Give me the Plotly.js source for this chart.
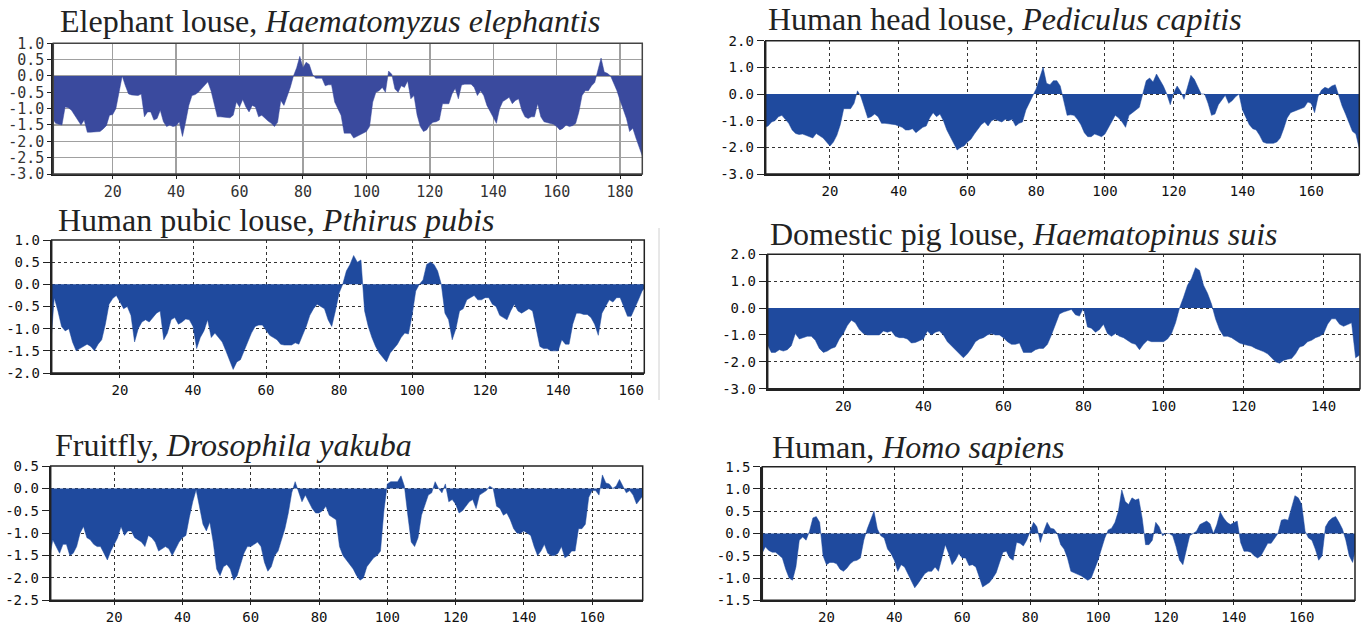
<!DOCTYPE html>
<html>
<head>
<meta charset="utf-8">
<script src="https://cdn.plot.ly/plotly-3.0.1.min.js"></script>
<style>html,body{margin:0;padding:0;background:#fff;}#chart{width:1368px;height:630px;}</style>
</head>
<body>
<div id="chart"></div>
<script>
// ---------- DATA (hydropathy, one value per residue) ----------
const commonNames = ["Elephant louse", "Human head louse", "Human pubic louse", "Domestic pig louse", "Fruitfly", "Human"];
const latinNames = ["Haematomyzus elephantis", "Pediculus capitis", "Pthirus pubis", "Haematopinus suis", "Drosophila yakuba", "Homo sapiens"];

const elephantLouse = [-1.3,-1.45,-1.48,-1.5,-0.95,-0.97,-1.05,-1.2,-1.35,-1.5,-1.35,-1.72,-1.72,-1.72,-1.72,-1.7,-1.62,-1.52,-1.2,-1.18,
-1.0,-0.5,0.0,-0.3,-0.55,-0.58,-0.58,-0.6,-0.55,-1.25,-1.1,-1.1,-1.35,-1.3,-1.05,-1.4,-1.55,-1.5,-1.55,-1.52,
-1.4,-1.85,-1.4,-0.9,-0.6,-0.57,-0.5,-0.4,-0.3,-0.18,-0.45,-0.9,-1.25,-1.25,-1.25,-1.27,-1.28,-1.2,-0.8,-0.95,
-0.72,-0.95,-1.1,-0.9,-0.95,-1.25,-1.2,-1.3,-1.38,-1.45,-1.55,-1.42,-0.75,-0.9,-0.65,-0.35,0.0,0.25,0.6,0.25,
0.42,0.35,0.05,-0.07,-0.07,-0.07,-0.3,-0.27,-0.27,-0.8,-1.0,-1.2,-1.75,-1.75,-1.75,-1.9,-1.85,-1.8,-1.75,-1.7,
-1.55,-0.8,-0.5,-0.45,-0.35,-0.5,0.15,0.05,-0.4,-0.5,-0.3,-0.35,-0.15,-0.7,-0.6,-1.2,-1.55,-1.7,-1.65,-1.5,
-1.42,-1.4,-1.35,-0.85,-0.85,-0.85,-0.55,-0.38,-0.7,-0.28,-0.25,-0.25,-0.25,-0.35,-0.6,-0.45,-0.6,-0.9,-1.1,-1.3,
-1.45,-1.0,-0.78,-0.72,-0.65,-0.85,-0.75,-0.7,-1.05,-1.25,-1.3,-1.25,-1.25,-0.85,-1.25,-1.4,-1.42,-1.45,-1.48,-1.55,
-1.65,-1.6,-1.5,-1.55,-1.52,-1.45,-1.1,-0.6,-0.45,-0.45,-0.3,-0.2,0.2,0.55,0.12,0.08,0.0,-0.2,-0.45,-0.75,
-1.0,-1.3,-1.7,-1.6,-1.9,-2.2,-2.45];

const headLouse = [-1.25,-1.2,-1.05,-1.0,-0.85,-0.8,-0.95,-1.1,-1.35,-1.48,-1.52,-1.5,-1.55,-1.6,-1.65,-1.48,-1.55,-1.65,-1.8,-1.95,
-1.8,-1.55,-1.15,-0.55,-0.55,-0.55,-0.35,0.12,-0.1,-0.55,-0.9,-0.85,-0.75,-0.85,-1.1,-1.1,-1.12,-1.15,-1.15,-1.2,
-1.25,-1.35,-1.35,-1.3,-1.45,-1.35,-1.25,-1.2,-0.9,-0.7,-0.85,-0.75,-1.0,-1.35,-1.6,-1.8,-2.1,-2.0,-1.95,-1.8,
-1.7,-1.5,-1.3,-1.15,-1.05,-1.2,-1.0,-0.95,-1.0,-1.05,-0.95,-1.0,-0.95,-1.2,-1.1,-1.05,-0.6,-0.35,-0.1,0.2,
0.6,1.0,0.4,0.35,0.5,0.5,0.3,-0.3,-0.8,-0.78,-0.8,-0.95,-1.15,-1.45,-1.6,-1.6,-1.5,-1.55,-1.6,-1.5,
-1.25,-1.0,-0.8,-0.9,-1.05,-1.25,-0.8,-0.7,-0.6,-0.5,0.0,0.5,0.6,0.45,0.75,0.55,0.3,0.0,-0.4,0.05,
0.3,0.1,-0.2,0.25,0.7,0.55,0.3,0.0,0.0,-0.35,-0.8,-0.75,-0.4,-0.2,-0.05,-0.35,-0.25,-0.1,0.0,-0.6,
-0.85,-1.15,-1.3,-1.35,-1.55,-1.8,-1.85,-1.85,-1.85,-1.8,-1.65,-1.3,-0.9,-0.7,-0.65,-0.6,-0.55,-0.5,-0.3,-0.35,
-0.7,-0.1,0.15,0.25,0.2,0.3,0.35,-0.05,-0.45,-0.75,-1.05,-1.4,-1.5,-2.05];

const pubicLouse = [-1.4,-0.3,-0.6,-0.95,-1.05,-1.0,-1.3,-1.5,-1.45,-1.4,-1.35,-1.4,-1.5,-1.35,-1.25,-0.9,-0.45,-0.32,-0.25,-0.4,
-0.55,-0.5,-0.7,-1.3,-1.0,-0.85,-0.8,-0.85,-0.75,-0.65,-0.6,-1.25,-1.1,-0.8,-0.75,-0.9,-0.85,-0.78,-0.8,-0.95,
-1.45,-1.2,-1.05,-0.8,-1.2,-1.1,-1.2,-1.3,-1.5,-1.7,-1.92,-1.75,-1.7,-1.5,-1.3,-1.1,-0.95,-0.92,-0.92,-1.05,
-1.15,-1.2,-1.25,-1.35,-1.37,-1.37,-1.37,-1.32,-1.35,-1.15,-0.95,-0.7,-0.55,-0.45,-0.5,-0.55,-0.8,-0.95,-0.6,-0.2,
0.0,0.3,0.45,0.65,0.5,0.55,-0.6,-0.95,-1.2,-1.4,-1.55,-1.65,-1.75,-1.55,-1.45,-1.35,-1.2,-1.1,-1.12,-0.7,
-0.15,0.0,0.1,0.45,0.5,0.45,0.3,0.0,-0.65,-0.8,-1.25,-1.0,-0.6,-0.55,-0.35,-0.3,-0.25,-0.35,-0.35,-0.3,
-0.3,-0.45,-0.5,-0.7,-0.75,-0.8,-0.6,-0.45,-0.6,-0.65,-0.6,-0.55,-0.6,-1.0,-1.4,-1.45,-1.45,-1.5,-1.5,-1.5,
-1.25,-1.35,-1.35,-0.9,-0.65,-0.65,-0.68,-0.68,-0.75,-0.9,-1.15,-0.65,-0.5,-0.35,-0.4,-0.3,-0.3,-0.5,-0.72,-0.72,
-0.55,-0.35,-0.15,-0.05];

const pigLouse = [-1.35,-1.65,-1.65,-1.55,-1.6,-1.55,-1.4,-0.95,-1.15,-1.1,-1.05,-1.05,-1.2,-1.5,-1.65,-1.6,-1.5,-1.45,-1.15,-0.95,
-0.65,-0.45,-0.55,-0.8,-0.95,-1.0,-1.0,-1.0,-1.0,-0.85,-0.9,-0.85,-1.05,-1.1,-1.1,-1.15,-1.3,-1.28,-1.2,-1.15,
-0.85,-1.0,-0.9,-0.85,-1.0,-1.25,-1.4,-1.55,-1.7,-1.85,-1.7,-1.5,-1.25,-1.15,-1.1,-1.0,-0.95,-1.0,-1.0,-1.1,
-1.25,-1.35,-1.35,-1.3,-1.65,-1.65,-1.65,-1.55,-1.5,-1.5,-1.35,-1.0,-0.6,-0.22,-0.15,-0.1,-0.05,-0.25,-0.3,0.0,
-0.7,-0.75,-0.9,-0.8,-0.6,-0.95,-1.05,-0.95,-1.05,-1.1,-1.2,-1.3,-1.35,-1.55,-1.35,-1.2,-1.25,-1.25,-1.25,-1.25,
-1.15,-0.95,-0.55,0.0,0.4,0.85,1.1,1.5,1.4,0.85,0.55,0.15,-0.4,-0.8,-1.05,-1.05,-1.1,-1.2,-1.3,-1.35,
-1.38,-1.42,-1.5,-1.55,-1.62,-1.7,-1.85,-2.0,-2.05,-1.95,-1.9,-1.88,-1.7,-1.45,-1.4,-1.25,-1.2,-1.1,-1.05,-0.95,
-0.6,-0.4,-0.4,-0.6,-0.68,-0.6,-0.55,-1.85,-1.75];

const fruitfly = [-1.6,-1.15,-1.3,-1.45,-1.25,-1.25,-1.5,-1.45,-1.3,-1.0,-0.85,-1.1,-1.15,-1.25,-1.3,-1.3,-1.45,-1.6,-1.4,-1.25,
-1.1,-0.85,-1.05,-0.95,-0.95,-1.1,-1.15,-1.2,-1.3,-1.05,-1.1,-1.2,-1.4,-1.35,-1.3,-1.35,-1.5,-1.35,-1.2,-1.1,
-1.05,-0.65,-0.3,-0.03,-0.45,-0.8,-0.95,-0.75,-1.2,-1.8,-1.95,-1.75,-1.7,-1.8,-2.05,-1.95,-1.7,-1.45,-1.3,-1.3,
-1.25,-1.2,-1.3,-1.65,-1.85,-1.75,-1.5,-1.4,-1.15,-0.9,-0.55,-0.1,0.15,-0.1,-0.3,-0.15,-0.3,-0.45,-0.55,-0.55,
-0.5,-0.4,-0.6,-0.65,-0.7,-1.3,-1.5,-1.6,-1.7,-1.8,-1.95,-2.05,-2.0,-1.75,-1.65,-1.55,-1.5,-1.4,-0.5,0.1,
0.15,0.15,0.15,0.28,0.05,-0.6,-1.2,-1.3,-1.1,-0.6,-0.35,-0.15,-0.1,0.15,0.0,-0.1,0.1,-0.3,-0.25,-0.35,
-0.55,-0.5,-0.4,-0.3,-0.25,-0.45,-0.15,-0.1,-0.05,0.05,0.0,-0.4,-0.45,-0.6,-0.55,-0.7,-0.9,-1.0,-1.0,-0.95,
-1.0,-1.05,-1.3,-1.5,-1.4,-1.25,-1.45,-1.5,-1.5,-1.45,-1.3,-1.55,-1.5,-1.4,-1.4,-0.9,-0.9,-0.8,-0.2,-0.05,
-0.05,-0.15,0.3,0.12,0.1,0.0,0.05,0.2,0.05,-0.1,-0.05,-0.15,-0.35,-0.25,-0.15];

const human = [-0.45,-0.3,-0.38,-0.42,-0.42,-0.48,-0.55,-0.8,-1.0,-1.05,-0.75,-0.15,-0.08,-0.15,0.05,0.35,0.38,0.25,-0.5,-0.7,
-0.65,-0.65,-0.68,-0.8,-0.85,-0.78,-0.68,-0.62,-0.6,-0.55,-0.15,0.1,0.3,0.5,0.1,-0.05,-0.1,-0.35,-0.45,-0.6,
-0.85,-0.7,-0.75,-0.9,-1.05,-1.22,-1.12,-1.0,-0.9,-0.85,-0.85,-0.75,-0.85,-0.55,-0.25,-0.45,-0.7,-0.6,-0.45,-0.55,
-0.55,-0.72,-0.7,-0.75,-1.0,-1.2,-1.15,-1.1,-1.0,-0.88,-0.65,-0.42,-0.4,-0.55,-0.6,-0.2,-0.22,-0.28,-0.15,0.05,
0.25,0.15,-0.2,0.05,0.25,0.12,0.1,0.0,-0.25,-0.35,-0.55,-0.85,-0.88,-0.92,-0.95,-1.0,-1.05,-1.0,-0.8,-0.6,
-0.35,-0.1,0.08,0.12,0.25,0.5,0.98,0.72,0.65,0.8,0.75,0.78,0.35,-0.25,-0.25,-0.15,0.25,0.15,-0.05,0.0,
0.0,-0.05,-0.3,-0.6,-0.7,-0.35,-0.05,0.0,0.05,0.2,0.25,0.28,0.22,0.0,0.2,0.48,0.35,0.25,0.2,0.25,
0.28,-0.2,-0.4,-0.4,-0.42,-0.5,-0.55,-0.5,-0.35,-0.22,-0.22,-0.1,0.0,0.3,0.32,0.3,0.55,0.85,0.8,0.65,
0.05,-0.1,-0.15,-0.35,-0.6,-0.5,0.15,0.28,0.35,0.38,0.25,0.1,-0.15,-0.5,-0.65,-0.3];

const seriesList = [elephantLouse, headLouse, pubicLouse, pigLouse, fruitfly, human];

const yTickValues = [
  [1.0,0.5,0.0,-0.5,-1.0,-1.5,-2.0,-2.5,-3.0],
  [2.0,1.0,0.0,-1.0,-2.0,-3.0],
  [1.0,0.5,0.0,-0.5,-1.0,-1.5,-2.0],
  [2.0,1.0,0.0,-1.0,-2.0,-3.0],
  [0.5,0.0,-0.5,-1.0,-1.5,-2.0,-2.5],
  [1.5,1.0,0.5,0.0,-0.5,-1.0,-1.5]
];
const xTickValues = [20,40,60,80,100,120,140,160,180];

// ---------- LAYOUT GEOMETRY (pixels) ----------
const W = 1368, H = 630;
const boxes = [ // [left, top, right, bottom]
  [53.3, 43.3, 642.3, 174.0],
  [765.7, 40.7, 1359.3, 174.0],
  [51.7, 240.0, 644.3, 373.0],
  [767.7, 254.3, 1360.0, 388.7],
  [50.7, 466.0, 642.7, 600.3],
  [762.3, 466.7, 1355.0, 600.3]
];
const xRanges = [[1.27,187.0],[1.3,174.0],[1.3,163.6],[1.1,149.1],[1.4,174.8],[1.1,175.7]];
const titlePos = [[58,21.5],[766,19],[55.5,219.5],[768,233.5],[53,444.5],[770,446.5]];

const data = [];
const layout = {
  width: W, height: H,
  margin: {l:0, r:0, t:0, b:0},
  paper_bgcolor: '#fff', plot_bgcolor: '#fff',
  showlegend: false, hovermode: false,
  font: {family: 'DejaVu Sans Mono, monospace', color: '#222', size: 13},
  annotations: [], shapes: []
};

seriesList.forEach((vals, i) => {
  const n = i + 1;
  const xa = n === 1 ? 'x' : 'x' + n;
  const ya = n === 1 ? 'y' : 'y' + n;
  const xk = n === 1 ? 'xaxis' : 'xaxis' + n;
  const yk = n === 1 ? 'yaxis' : 'yaxis' + n;
  const isEle = i === 0;
  const fillCol = isEle ? '#3a4a9e' : '#1f4a9e';
  const residues = vals.map((_, k) => k + 1);
  data.push({
    type: 'scatter', mode: 'lines', x: residues, y: vals,
    xaxis: xa, yaxis: ya, fill: 'tozeroy', fillcolor: fillCol,
    line: {color: fillCol, width: 0.5, shape: 'linear'}
  });
  const b = boxes[i];
  const yt = yTickValues[i];
  const gridStyle = isEle
    ? {gridcolor: '#a0a0a0', gridwidth: 1.5, griddash: 'solid'}
    : {gridcolor: '#333', gridwidth: 1, griddash: 'dot'};
  const tickFont = isEle ? {family: 'DejaVu Sans Mono, monospace', size: 15, color: '#333'}
                         : {family: 'DejaVu Sans Mono, monospace', size: 14, color: '#111'};
  layout[xk] = Object.assign({
    domain: [b[0]/W, b[2]/W], anchor: ya, range: xRanges[i],
    tickvals: xTickValues, ticktext: xTickValues.map(String),
    showgrid: true, zeroline: false, showline: true, linecolor: '#222', linewidth: 2,
    ticks: 'outside', ticklen: 3, tickcolor: '#222', tickfont: tickFont, fixedrange: true
  }, gridStyle);
  layout[yk] = Object.assign({
    domain: [1 - b[3]/H, 1 - b[1]/H], anchor: xa, range: [yt[yt.length-1], yt[0]],
    tickvals: yt, ticktext: yt.map(v => v.toFixed(1)),
    showgrid: true, zeroline: false, showline: true, linecolor: '#222', linewidth: 2,
    ticks: 'outside', ticklen: isEle ? 4 : 7, tickcolor: '#222', tickfont: tickFont, fixedrange: true
  }, gridStyle);
  layout.shapes.push({
    type: 'rect', xref: xa + ' domain', yref: ya + ' domain', x0: 0, x1: 1, y0: 0, y1: 1,
    line: {color: isEle ? '#444' : '#222', width: 1.5}, fillcolor: 'rgba(0,0,0,0)', layer: 'above'
  });
  layout.annotations.push({
    xref: 'paper', yref: 'paper', x: titlePos[i][0]/W, y: 1 - titlePos[i][1]/H,
    xanchor: 'left', yanchor: 'middle', showarrow: false,
    text: commonNames[i] + ', <i>' + latinNames[i] + '</i>',
    font: {family: 'Liberation Serif, Times New Roman, serif', size: 32, color: '#222'}
  });
});

// faint vertical frame line right of the pubic-louse panel
layout.shapes.push({type: 'line', xref: 'paper', yref: 'paper', x0: 659/W, x1: 659/W, y0: 1 - 400/H, y1: 1 - 228/H,
  line: {color: '#d0d0d0', width: 1}});

Plotly.newPlot('chart', data, layout, {staticPlot: true, displayModeBar: false});
</script>
</body>
</html>
